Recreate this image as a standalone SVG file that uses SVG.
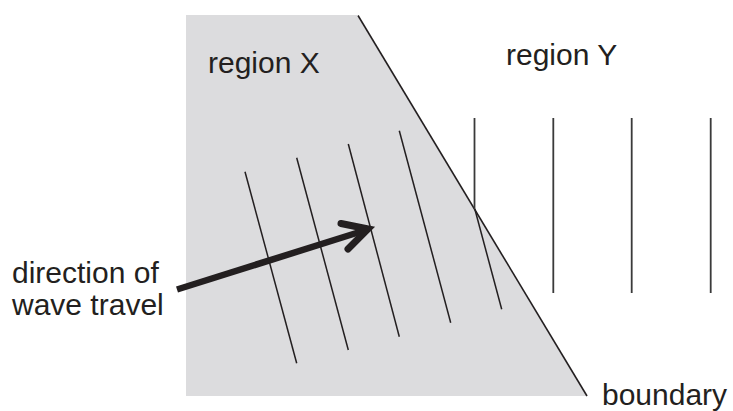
<svg xmlns="http://www.w3.org/2000/svg" width="733" height="411" viewBox="0 0 733 411">
<style>
  .lbl { font-family: "Liberation Sans", Arial, sans-serif; font-size: 30px; fill: #231f20; }
  .wx { stroke: #231f20; stroke-width: 1.5; fill: none; stroke-linecap: butt; }
  .wy { stroke: #3a3a3a; stroke-width: 1.8; fill: none; }
</style>
<rect width="733" height="411" fill="#ffffff"/>
<g id="region-x-area">
  <polygon points="186,15 357,15 587,396 186,396" fill="#dcdcde"/>
</g>
<g id="boundary-line">
  <line x1="358" y1="15.5" x2="587" y2="396" stroke="#231f20" stroke-width="1.6"/>
</g>
<g id="waves-x">
  <line class="wx" x1="245" y1="171.7" x2="296.7" y2="363.3"/>
  <line class="wx" x1="296.7" y1="157.7" x2="348.3" y2="350"/>
  <line class="wx" x1="348.3" y1="144" x2="399.3" y2="336.7"/>
  <line class="wx" x1="399.3" y1="130.7" x2="450.7" y2="322.7"/>
  <line class="wx" x1="474.8" y1="209" x2="501.7" y2="309.3"/>
</g>
<g id="waves-y">
  <line class="wy" x1="474.5" y1="118" x2="474.5" y2="209"/>
  <line class="wy" x1="553.3" y1="118" x2="553.3" y2="293"/>
  <line class="wy" x1="631.7" y1="118" x2="631.7" y2="293"/>
  <line class="wy" x1="710.7" y1="118" x2="710.7" y2="293"/>
</g>
<g id="arrow">
  <line x1="177" y1="289.5" x2="366" y2="230" stroke="#231f20" stroke-width="6.5"/>
  <polyline points="341,223.5 368,229 348,249" fill="none" stroke="#231f20" stroke-width="7" stroke-linecap="round" stroke-linejoin="miter"/>
</g>
<g id="labels">
  <text class="lbl" x="208" y="73">region X</text>
  <text class="lbl" x="506" y="65">region Y</text>
  <text class="lbl" x="12" y="283">direction of</text>
  <text class="lbl" x="12" y="315">wave travel</text>
  <text class="lbl" x="602" y="405">boundary</text>
</g>
</svg>
